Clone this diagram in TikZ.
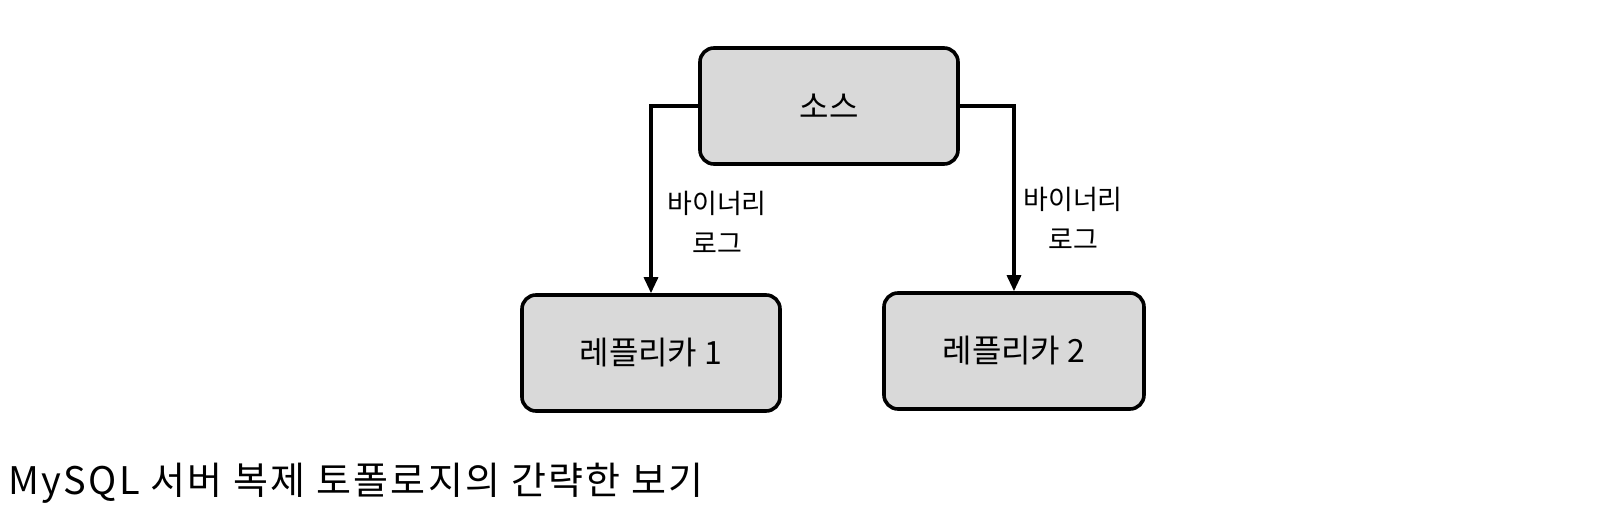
\documentclass[tikz,border=0pt]{standalone}
\usepackage{fontspec}
\setmainfont{Noto Sans CJK KR}
\newfontfamily\capfont[LetterSpace=6]{Noto Sans CJK KR}
\usepackage{tikz}
\usetikzlibrary{arrows.meta}

\begin{document}
\begin{tikzpicture}[x=0.5pt, y=-0.5pt,
    server/.style={draw, line width=1.8pt, rounded corners=7pt, fill=black!15,
                   minimum width=129pt, minimum height=58pt, inner sep=0pt,
                   font=\fontsize{16}{19}\selectfont},
    flow/.style={line width=1.6pt, -{Triangle[width=7pt,length=8pt]}},
    loglabel/.style={align=center, inner sep=0pt, anchor=north west,
                     font=\fontsize{13.5}{20}\selectfont}]
             \useasboundingbox (0,0) rectangle (1608,518);

             \node[server] (source) at (829, 106) {소스};
             \node[server] (replica1) at (651, 353) {레플리카 1};
             \node[server, minimum width=130pt] (replica2) at (1014, 351) {레플리카 2};

             \draw[flow] (source.west) -| (replica1.north);
             \draw[flow] (source.east) -| (replica2.north);

             \node[loglabel] (binlog1) at (667, 191) {바이너리\\로그};
             \node[loglabel] (binlog2) at (1023, 187) {바이너리\\로그};

             \node[anchor=west, inner sep=0pt, font=\capfont\fontsize{19}{22}\selectfont]
                  (caption) at (8, 483) {MySQL 서버 복제 토폴로지의 간략한 보기};
\end{tikzpicture}
\end{document}
